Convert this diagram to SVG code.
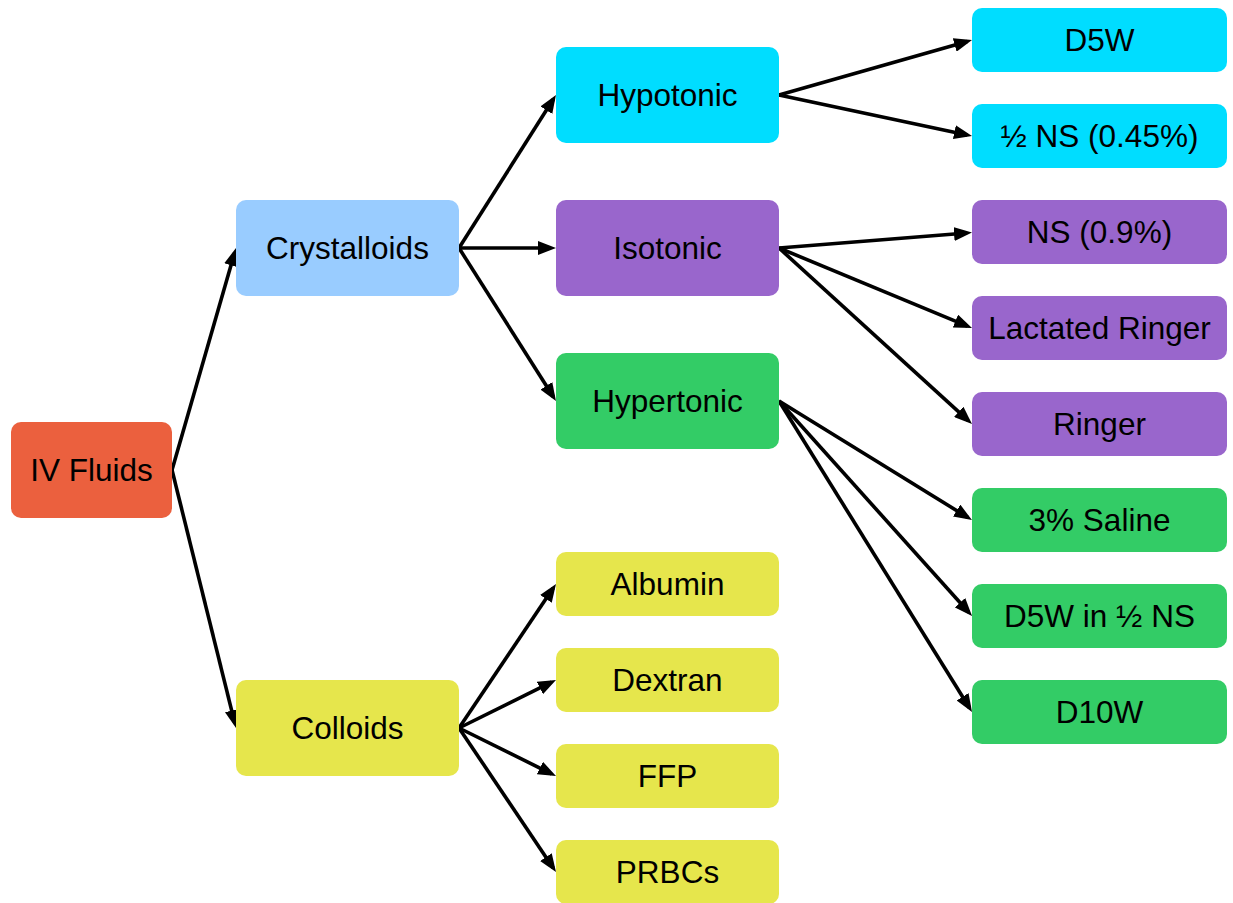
<svg xmlns="http://www.w3.org/2000/svg" width="1233" height="903" viewBox="0 0 1233 903">
<style>
.n rect{rx:10px;ry:10px}
.n text{font-family:"Liberation Sans",Arial,sans-serif;font-size:31.5px;fill:#000;text-anchor:middle;dominant-baseline:central}
.c path{stroke:#000;stroke-width:3.6;fill:none;marker-end:url(#ah)}
</style>
<defs>
<marker id="ah" viewBox="0 0 18 14" markerWidth="18" markerHeight="14" refX="13" refY="7" orient="auto" markerUnits="userSpaceOnUse">
<path d="M0,0 L18,7 L0,14 z" fill="#000"/>
</marker>
</defs>
<rect width="1233" height="903" fill="#fff"/>
<g class="c" id="connectors">
<path d="M172,470 L234.6,252.8"/>
<path d="M172,470 L234.8,723.1"/>
<path d="M459,248 L553.3,99.2"/>
<path d="M459,248 L551,248"/>
<path d="M459,248 L553.3,396.8"/>
<path d="M779,95 L967.2,41.4"/>
<path d="M779,95 L967.1,134.9"/>
<path d="M779,248 L967,233"/>
<path d="M779,248 L967.4,326.1"/>
<path d="M779,248 L968.3,420.6"/>
<path d="M779,401 L967.7,517.4"/>
<path d="M779,401 L968.7,612.3"/>
<path d="M779,401 L969.4,707.8"/>
<path d="M459,728 L553.2,588.1"/>
<path d="M459,728 L551.5,682.2"/>
<path d="M459,728 L551.5,773.8"/>
<path d="M459,728 L553.2,867.9"/>
</g>
<g class="n" id="iv-fluids"><rect x="11" y="422" width="161" height="96" fill="#EB603E"/><text x="91.5" y="470">IV Fluids</text></g>
<g class="n" id="crystalloids"><rect x="236" y="200" width="223" height="96" fill="#99CCFF"/><text x="347.5" y="248">Crystalloids</text></g>
<g class="n" id="colloids"><rect x="236" y="680" width="223" height="96" fill="#E6E64C"/><text x="347.5" y="728">Colloids</text></g>
<g class="n" id="hypotonic"><rect x="556" y="47" width="223" height="96" fill="#00DDFF"/><text x="667.5" y="95">Hypotonic</text></g>
<g class="n" id="isotonic"><rect x="556" y="200" width="223" height="96" fill="#9966CC"/><text x="667.5" y="248">Isotonic</text></g>
<g class="n" id="hypertonic"><rect x="556" y="353" width="223" height="96" fill="#33CC66"/><text x="667.5" y="401">Hypertonic</text></g>
<g class="n" id="albumin"><rect x="556" y="552" width="223" height="64" fill="#E6E64C"/><text x="667.5" y="584">Albumin</text></g>
<g class="n" id="dextran"><rect x="556" y="648" width="223" height="64" fill="#E6E64C"/><text x="667.5" y="680">Dextran</text></g>
<g class="n" id="ffp"><rect x="556" y="744" width="223" height="64" fill="#E6E64C"/><text x="667.5" y="776">FFP</text></g>
<g class="n" id="prbcs"><rect x="556" y="840" width="223" height="64" fill="#E6E64C"/><text x="667.5" y="872">PRBCs</text></g>
<g class="n" id="d5w"><rect x="972" y="8" width="255" height="64" fill="#00DDFF"/><text x="1099.5" y="40">D5W</text></g>
<g class="n" id="half-ns"><rect x="972" y="104" width="255" height="64" fill="#00DDFF"/><text x="1099.5" y="136">½ NS (0.45%)</text></g>
<g class="n" id="ns"><rect x="972" y="200" width="255" height="64" fill="#9966CC"/><text x="1099.5" y="232">NS (0.9%)</text></g>
<g class="n" id="lactated-ringer"><rect x="972" y="296" width="255" height="64" fill="#9966CC"/><text x="1099.5" y="328">Lactated Ringer</text></g>
<g class="n" id="ringer"><rect x="972" y="392" width="255" height="64" fill="#9966CC"/><text x="1099.5" y="424">Ringer</text></g>
<g class="n" id="saline3"><rect x="972" y="488" width="255" height="64" fill="#33CC66"/><text x="1099.5" y="520">3% Saline</text></g>
<g class="n" id="d5w-half-ns"><rect x="972" y="584" width="255" height="64" fill="#33CC66"/><text x="1099.5" y="616">D5W in ½ NS</text></g>
<g class="n" id="d10w"><rect x="972" y="680" width="255" height="64" fill="#33CC66"/><text x="1099.5" y="712">D10W</text></g>
</svg>
